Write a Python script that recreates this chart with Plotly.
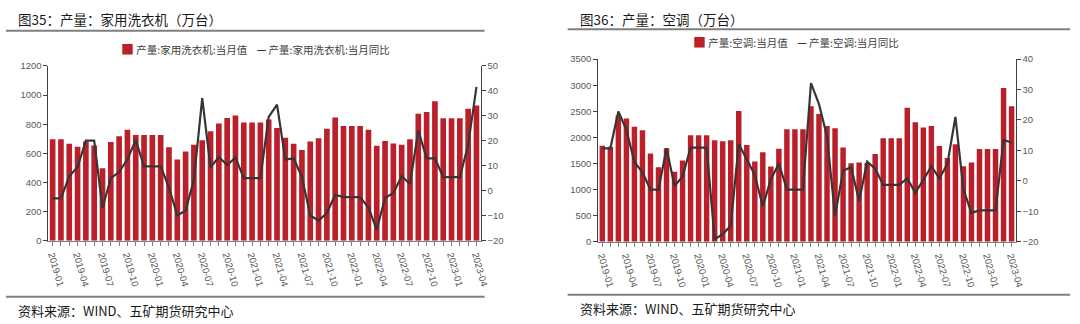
import plotly.graph_objects as go

# Monthly categories 2019-01 .. 2023-04
months = [f"{y}-{m:02d}" for y in range(2019, 2024) for m in range(1, 13)][:52]
tick_text = [m if m[-2:] in ("01", "04", "07", "10") else "" for m in months]

# 家用洗衣机 production (万台) and YoY (%)
washer_output = [697, 696, 665, 645, 682, 654, 497, 678, 718, 762, 725, 725, 725,
                 725, 641, 557, 612, 659, 690, 751, 804, 842, 860, 811, 811, 811,
                 833, 773, 707, 665, 623, 681, 703, 769, 846, 787, 787, 787, 762,
                 652, 685, 667, 659, 696, 871, 884, 957, 840, 840, 840, 906, 928]
washer_yoy = [-3.0, -3.0, 5.8, 9.5, 20.1, 20.1, -6.9, 5.1, 7.5, 12.6, 20.3, 9.8, 9.8,
              9.8, 1.3, -9.8, -8.0, 4.5, 37.1, 9.4, 13.5, 10.3, 13.3, 5.1, 5.1, 5.1,
              29.6, 34.5, 12.5, 13.0, 5.5, -9.9, -11.9, -8.9, -1.6, -2.5, -2.5, -2.5,
              -6.7, -15.5, -2.9, -0.9, 5.8, 2.7, 24.2, 13.0, 13.0, 5.5, 5.5, 5.5,
              18.4, 41.6]

# 空调 production (万台) and YoY (%)
ac_output = [1840, 1820, 2420, 2364, 2204, 2136, 1691, 1426, 1790, 1340, 1556, 2043,
             2043, 2043, 1944, 1926, 1944, 2506, 1852, 1537, 1716, 1444, 1784, 2154,
             2154, 2154, 2596, 2450, 2217, 2176, 1808, 1505, 1517, 1510, 1680, 1983,
             1983, 1983, 2567, 2292, 2187, 2217, 1837, 1604, 1867, 1447, 1517, 1779,
             1779, 1779, 2946, 2596]
ac_yoy = [10.7, 10.7, 22.8, 16.8, 6.2, 2.8, -2.9, -2.9, 10.7, -1.7, 1.4, 10.9, 10.9,
          10.9, -19.2, -17.5, -14.8, 12.1, 7.1, 1.9, -8.4, 0.5, 5.7, -2.9, -2.9, -2.9,
          32.1, 25.2, 14.6, -11.6, 3.3, 4.5, -6.6, 6.3, 4.0, -1.3, -1.3, -1.3, 0.8,
          -3.9, 0.3, 4.8, 0.8, 5.6, 21.0, -2.9, -10.5, -9.7, -9.7, -9.7, 13.5, 12.5]

BAR = "#BA1F2A"
LINE = "#363636"
AXIS = "#595959"
TXT = "#404040"
CJK = "Noto Sans CJK SC"
NUM = "Liberation Sans"

W, H = 1080, 324


def py(px):
    return 1 - px / H


def pxx(px):
    return px / W


fig = go.Figure()

fig.add_trace(go.Bar(x=months, y=washer_output, marker_color=BAR, marker_line_width=0,
                     xaxis="x", yaxis="y", showlegend=False))
fig.add_trace(go.Scatter(x=months, y=washer_yoy, mode="lines",
                         line=dict(color=LINE, width=2.2), xaxis="x", yaxis="y2",
                         showlegend=False))
fig.add_trace(go.Bar(x=months, y=ac_output, marker_color=BAR, marker_line_width=0,
                     xaxis="x2", yaxis="y3", showlegend=False))
fig.add_trace(go.Scatter(x=months, y=ac_yoy, mode="lines",
                         line=dict(color=LINE, width=2.2), xaxis="x2", yaxis="y4",
                         showlegend=False))

tickfont = dict(family=NUM, size=9.5, color=AXIS)

xcommon = dict(type="category", tickmode="array", tickvals=months, ticktext=tick_text,
               tickangle=74, ticks="outside", ticklen=4, tickcolor="#7f7f7f",
               showline=True, linecolor="#7f7f7f", linewidth=1, showgrid=False,
               tickfont=tickfont, zeroline=False)
ycommon = dict(showline=True, linecolor="#404040", linewidth=1, ticks="outside",
               ticklen=4, tickcolor="#404040", showgrid=False, zeroline=False,
               tickfont=tickfont)

fig.update_layout(
    width=W, height=H,
    margin=dict(l=0, r=0, t=0, b=0),
    paper_bgcolor="white", plot_bgcolor="white",
    bargap=0.32,
    xaxis=dict(domain=[pxx(47), pxx(484)], anchor="y", **xcommon),
    yaxis=dict(domain=[py(243), py(62)], range=[0, 1200], dtick=200, anchor="x",
               **ycommon),
    yaxis2=dict(range=[-20, 50], dtick=10, overlaying="y", side="right", anchor="x",
                **ycommon),
    xaxis2=dict(domain=[pxx(603), pxx(1025)], anchor="y3", **xcommon),
    yaxis3=dict(domain=[py(244), py(55)], range=[0, 3500], dtick=500, anchor="x2",
                **ycommon),
    yaxis4=dict(range=[-20, 40], dtick=10, overlaying="y3", side="right", anchor="x2",
                **ycommon),
)

# Header / footer rules
for x0, x1, ytop, ybot in [(4, 488, 25.5, 301), (572, 1080, 24, 299)]:
    for yy in (ytop, ybot):
        fig.add_shape(type="line", xref="paper", yref="paper",
                      x0=pxx(x0), x1=pxx(x1), y0=py(yy), y1=py(yy),
                      line=dict(color="#7f7f7f", width=2))

# Titles, legends, sources
texts = [
    (14, 13, "图35：产量：家用洗衣机（万台）", 13.5, "#1a1a1a", "left"),
    (582, 13, "图36：产量：空调（万台）", 13.5, "#1a1a1a", "left"),
    (14, 315, "资料来源：WIND、五矿期货研究中心", 13, "#1a1a1a", "left"),
    (582, 313, "资料来源：WIND、五矿期货研究中心", 13, "#1a1a1a", "left"),
]
for x, y, t, s, c, a in texts:
    fig.add_annotation(xref="paper", yref="paper", x=pxx(x), y=py(y), text=t,
                       showarrow=False, xanchor=a, yanchor="middle",
                       font=dict(family=CJK, size=s, color=c))

legends = [
    (256, 44.5, "产量:家用洗衣机:当月值", "产量:家用洗衣机:当月同比"),
    (803, 37, "产量:空调:当月值", "产量:空调:当月同比"),
]
for x, y, a, b in legends:
    txt = (f'<span style="color:{BAR};font-size:13px">■</span>&nbsp;{a}&nbsp;&nbsp;&nbsp;&nbsp;'
           f'<span style="color:{LINE};font-weight:bold">—</span>&nbsp;{b}')
    fig.add_annotation(xref="paper", yref="paper", x=pxx(x), y=py(y), text=txt,
                       showarrow=False, xanchor="center", yanchor="middle",
                       font=dict(family=CJK, size=10.5, color=TXT))

fig.write_html("out.html")
